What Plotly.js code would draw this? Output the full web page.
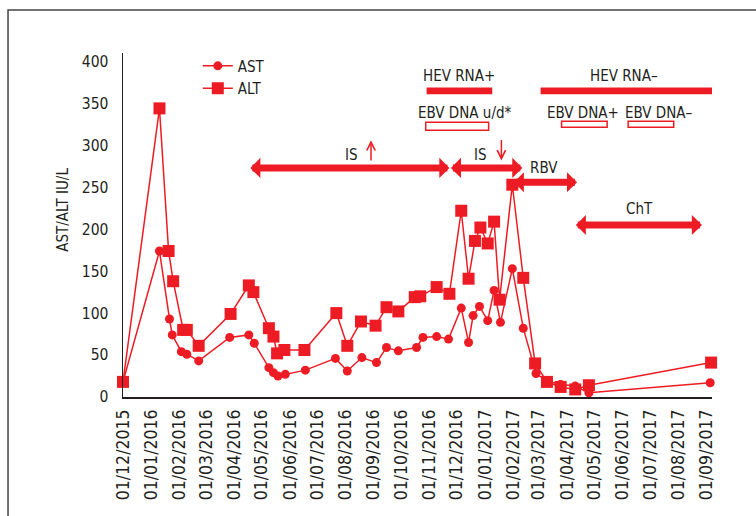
<!DOCTYPE html>
<html><head><meta charset="utf-8">
<script src="https://cdn.plot.ly/plotly-3.0.1.min.js"></script>
<style>html,body{margin:0;padding:0;background:#fff}#chart{width:756px;height:516px}</style>
</head><body><div id="chart"></div>
<script>
// ---- data ----
const astDates = ['2015-12-01','2016-01-10','2016-01-21','2016-01-24','2016-02-03','2016-02-09','2016-02-22','2016-03-27','2016-04-17','2016-04-23','2016-05-09','2016-05-14','2016-05-19','2016-05-27','2016-06-18','2016-07-21','2016-08-03','2016-08-19','2016-09-04','2016-09-15','2016-09-28','2016-10-18','2016-10-25','2016-11-09','2016-11-22','2016-12-06','2016-12-14','2016-12-19','2016-12-26','2017-01-04','2017-01-11','2017-01-18','2017-01-31','2017-02-12','2017-02-26','2017-03-10','2017-03-25','2017-04-10','2017-04-25','2017-09-05'];
const astValues = [18,174,93,74,54,51,43,71,74,64,35,29,25,27,32,46,31,47,41,59,55,59,71,72,69,106,65,97,108,91,127,89,153,82,28,19,15,13,5,17];
const altDates = ['2015-12-01','2016-01-10','2016-01-20','2016-01-25','2016-02-05','2016-02-09','2016-02-22','2016-03-28','2016-04-17','2016-04-22','2016-05-09','2016-05-14','2016-05-18','2016-05-26','2016-06-17','2016-07-22','2016-08-03','2016-08-18','2016-09-03','2016-09-15','2016-09-28','2016-10-16','2016-10-22','2016-11-09','2016-11-23','2016-12-06','2016-12-14','2016-12-21','2016-12-27','2017-01-04','2017-01-11','2017-01-17','2017-01-31','2017-02-12','2017-02-25','2017-03-10','2017-03-25','2017-04-10','2017-04-25','2017-09-06'];
const altValues = [18,344,174,138,80,80,61,99,133,125,82,72,52,56,56,100,61,90,85,107,102,119,120,131,123,222,141,186,202,183,209,116,253,142,40,18,12,9,14,41];
const monthTicks = ['2015-12-01','2016-01-01','2016-02-01','2016-03-01','2016-04-01','2016-05-01','2016-06-01','2016-07-01','2016-08-01','2016-09-01','2016-10-01','2016-11-01','2016-12-01','2017-01-01','2017-02-01','2017-03-01','2017-04-01','2017-05-01','2017-06-01','2017-07-01','2017-08-01','2017-09-01'];
const monthLabels = ['01/12/2015','01/01/2016','01/02/2016','01/03/2016','01/04/2016','01/05/2016','01/06/2016','01/07/2016','01/08/2016','01/09/2016','01/10/2016','01/11/2016','01/12/2016','01/01/2017','01/02/2017','01/03/2017','01/04/2017','01/05/2017','01/06/2017','01/07/2017','01/08/2017','01/09/2017'];
const yTicks = [0,50,100,150,200,250,300,350,400];

// treatment periods
const treatmentLabels = ['IS','IS','RBV','ChT'];
const treatmentStart = ['2016-04-17','2016-11-23','2017-01-31','2017-04-09'];
const treatmentEnd   = ['2016-11-23','2017-02-11','2017-04-12','2017-08-27'];
// virology periods
const hevLabels = ['HEV RNA+','HEV RNA–'];
const hevStart = ['2016-10-29','2017-03-03'];
const hevEnd   = ['2017-01-09','2017-09-07'];
const ebvLabels = ['EBV DNA u/d*','EBV DNA+','EBV DNA–'];
const ebvStart = ['2016-10-28','2017-03-26','2017-06-07'];
const ebvEnd   = ['2017-01-05','2017-05-15','2017-07-27'];

// ---- styling ----
const RED = '#ed1c24';
const INK = '#231f20';
const FONT = '"DejaVu Sans Condensed","DejaVu Sans",sans-serif';
const TXT = 15;

const traces = [
  {x: astDates, y: astValues, name: 'AST', type: 'scatter', mode: 'lines+markers',
   line: {color: RED, width: 1.5}, marker: {color: RED, size: 9, symbol: 'circle'}, cliponaxis: false},
  {x: altDates, y: altValues, name: 'ALT', type: 'scatter', mode: 'lines+markers',
   line: {color: RED, width: 1.5}, marker: {color: RED, size: 12, symbol: 'square'}, cliponaxis: false}
];

const arrowY = [273, 273, 256, 205];
const annotations = [];
treatmentStart.forEach((s, i) => {
  annotations.push({x: treatmentEnd[i], y: arrowY[i], ax: s, ay: arrowY[i], axref: 'x', ayref: 'y', xref: 'x', yref: 'y',
    text: '', showarrow: true, arrowside: 'end+start', arrowhead: 1, startarrowhead: 1,
    arrowsize: 0.48, startarrowsize: 0.48, arrowwidth: 7, arrowcolor: RED, standoff: 0, startstandoff: 0});
});
const labelX = ['2016-08-08','2016-12-27','2017-03-07','2017-06-19'];
const labelY = [288, 288, 272.6, 224];
treatmentLabels.forEach((t, i) => {
  annotations.push({x: labelX[i], y: labelY[i], xref: 'x', yref: 'y', text: t, showarrow: false,
    font: {family: FONT, size: TXT, color: INK}, xanchor: 'center', yanchor: 'middle'});
});
// thin arrows (up / down)
annotations.push({x: '2016-08-29', y: 306, ax: '2016-08-29', ay: 280, axref: 'x', ayref: 'y', xref: 'x', yref: 'y',
  text: '', showarrow: true, arrowhead: 5, arrowsize: 1.1, arrowwidth: 1.5, arrowcolor: RED, standoff: 0});
annotations.push({x: '2017-01-19', y: 282, ax: '2017-01-19', ay: 308, axref: 'x', ayref: 'y', xref: 'x', yref: 'y',
  text: '', showarrow: true, arrowhead: 5, arrowsize: 1.1, arrowwidth: 1.5, arrowcolor: RED, standoff: 0});

const hevTextX = ['2016-12-04','2017-06-03'];
hevLabels.forEach((t, i) => {
  annotations.push({x: hevTextX[i], y: 383, xref: 'x', yref: 'y', text: t, showarrow: false,
    font: {family: FONT, size: TXT, color: INK}, xanchor: 'center', yanchor: 'middle'});
});
const ebvTextX = ['2016-12-10','2017-04-19','2017-07-11'];
ebvLabels.forEach((t, i) => {
  annotations.push({x: ebvTextX[i], y: 339, xref: 'x', yref: 'y', text: t, showarrow: false,
    font: {family: FONT, size: TXT, color: INK}, xanchor: 'center', yanchor: 'middle'});
});
// y-axis title placed as in the reference
annotations.push({x: -0.102, y: 0.544, xref: 'paper', yref: 'paper', text: 'AST/ALT IU/L', showarrow: false,
  textangle: -90, font: {family: FONT, size: TXT, color: INK}, xanchor: 'center', yanchor: 'middle'});

const shapes = [];
hevStart.forEach((s, i) => {
  shapes.push({type: 'rect', xref: 'x', yref: 'y', x0: s, x1: hevEnd[i], y0: 360.7, y1: 369,
    fillcolor: RED, line: {width: 0}});
});
const ebvY = [[318, 327.4], [321.4, 328.6], [321.4, 328.6]];
ebvStart.forEach((s, i) => {
  shapes.push({type: 'rect', xref: 'x', yref: 'y', x0: s, x1: ebvEnd[i], y0: ebvY[i][0], y1: ebvY[i][1],
    fillcolor: '#ffffff', line: {color: RED, width: 1.5}});
});
// outer frame
shapes.push({type: 'rect', xref: 'paper', yref: 'paper', x0: -0.1952, x1: 1.09, y0: -0.37, y1: 1.125,
  fillcolor: 'rgba(0,0,0,0)', line: {color: '#444', width: 1.5}, layer: 'below'});

const layout = {
  width: 756, height: 516,
  margin: {l: 123, r: 44, t: 53, b: 119},
  paper_bgcolor: '#fff', plot_bgcolor: '#fff',
  font: {family: FONT, color: INK, size: TXT},
  showlegend: true,
  legend: {x: 0.127, y: 1.01, xanchor: 'left', yanchor: 'top', bgcolor: 'rgba(0,0,0,0)',
    font: {family: FONT, size: TXT, color: INK}, itemclick: false},
  xaxis: {type: 'date', range: ['2015-12-01', '2017-09-07'], tickvals: monthTicks, ticktext: monthLabels,
    tickangle: -90, showgrid: false, zeroline: false, showline: true, linecolor: INK, linewidth: 1.5,
    ticks: '', tickfont: {family: FONT, size: 17.5, color: INK}, ticklabelstandoff: 4},
  yaxis: {range: [0, 410], tickvals: yTicks, showgrid: false, zeroline: false, showline: true,
    linecolor: INK, linewidth: 1.5, ticks: '', tickfont: {family: FONT, size: 15.5, color: INK}, ticklabelstandoff: 10},
  annotations: annotations,
  shapes: shapes
};

Plotly.newPlot('chart', traces, layout, {displayModeBar: false, staticPlot: true});
</script>
</body></html>
